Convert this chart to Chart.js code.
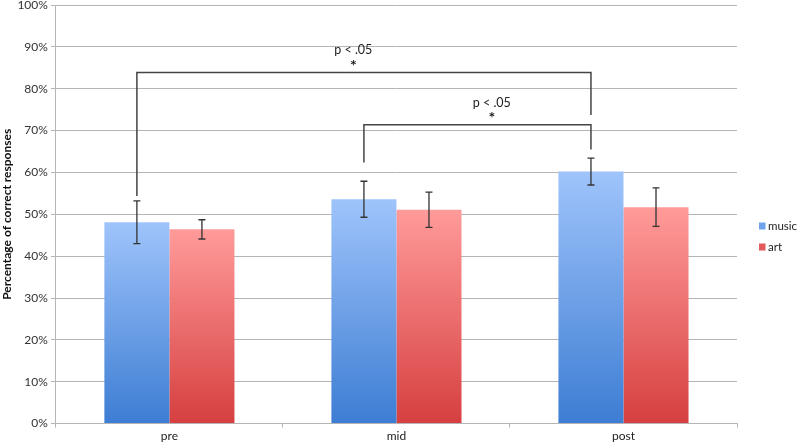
<!DOCTYPE html>
<html>
<head>
<meta charset="utf-8">
<script src="https://cdn.jsdelivr.net/npm/chart.js@4.4.1/dist/chart.umd.min.js"></script>
<style>
  html, body { margin: 0; padding: 0; background: #fff; }
  #wrap { width: 800px; height: 446px; position: relative; }
</style>
</head>
<body>
<div id="wrap"><canvas id="chart"></canvas></div>
<script>
/* Data */
const categories = ["pre", "mid", "post"];
const musicValues = [48.1, 53.6, 60.2];
const musicErrors = [5.1, 4.3, 3.2];
const artValues = [46.4, 51.1, 51.7];
const artErrors = [2.3, 4.2, 4.6];
const yTicks = [0, 10, 20, 30, 40, 50, 60, 70, 80, 90, 100];

/* significance brackets: from / to category, top of bracket, leg ends, label position */
const bracketFrom = [0, 1];
const bracketTo = [2, 2];
const bracketTop = [83.9, 71.4];
const bracketLegLeft = [54.4, 62.4];
const bracketLegRight = [73.7, 65.5];
const bracketLabelAt = [0.81, 1.42];
const bracketLabels = ["p < .05", "p < .05"];

const FONT = "Lato, 'Open Sans', sans-serif";
const legendColors = ["#6fa3ee", "#e25a5a"];

function barGradient(top, bottom){
    return function(ctx){
        const chart = ctx.chart;
        const area = chart.chartArea;
        const y = chart.scales.y;
        if(!area || !y || ctx.raw == null){ return bottom; }
        const g = chart.ctx.createLinearGradient(0, y.getPixelForValue(0), 0, y.getPixelForValue(ctx.raw));
        g.addColorStop(0, bottom);
        g.addColorStop(1, top);
        return g;
    }
}

/* error bars + brackets + legend */
const annotations = {
    id: "annotations",
    afterDatasetsDraw(chart){
        const ctx = chart.ctx;
        const y = chart.scales.y;
        const x = chart.scales.x;
        const errs = [musicErrors, artErrors];
        const vals = [musicValues, artValues];

        ctx.save();
        ctx.strokeStyle = "#333";
        ctx.lineWidth = 1.3;
        errs.forEach(function(err, d){
            chart.getDatasetMeta(d).data.forEach(function(bar, i){
                const hi = y.getPixelForValue(vals[d][i] + err[i]);
                const lo = y.getPixelForValue(vals[d][i] - err[i]);
                ctx.beginPath();
                ctx.moveTo(bar.x, hi); ctx.lineTo(bar.x, lo);
                ctx.moveTo(bar.x - 3.5, hi); ctx.lineTo(bar.x + 3.5, hi);
                ctx.moveTo(bar.x - 3.5, lo); ctx.lineTo(bar.x + 3.5, lo);
                ctx.stroke();
            })
        })

        const music = chart.getDatasetMeta(0).data;
        ctx.strokeStyle = "#444";
        ctx.lineWidth = 1.5;
        ctx.fillStyle = "#222";
        ctx.textAlign = "center";
        ctx.textBaseline = "middle";
        for(let b=0; b<bracketFrom.length; b++){
            const x1 = music[bracketFrom[b]].x;
            const x2 = music[bracketTo[b]].x;
            const top = y.getPixelForValue(bracketTop[b]);
            ctx.beginPath();
            ctx.moveTo(x1, y.getPixelForValue(bracketLegLeft[b]));
            ctx.lineTo(x1, top);
            ctx.lineTo(x2, top);
            ctx.lineTo(x2, y.getPixelForValue(bracketLegRight[b]));
            ctx.stroke();

            const tx = x.getPixelForValue(bracketLabelAt[b]);
            ctx.font = "12.5px " + FONT;
            ctx.fillText(bracketLabels[b], tx, top - 22);
            ctx.font = "bold 16px " + FONT;
            ctx.fillText("*", tx, top - 7);
        }

        /* legend, to the right of the plot */
        ctx.textAlign = "left";
        ctx.font = "11.5px " + FONT;
        chart.data.datasets.forEach(function(ds, i){
            const ly = 226 + i * 21;
            const lx = chart.chartArea.right + 22;
            ctx.fillStyle = legendColors[i];
            ctx.fillRect(lx, ly - 3.5, 6.5, 7);
            ctx.fillStyle = "#222";
            ctx.fillText(ds.label, lx + 9, ly);
        })
        ctx.restore();
    }
}

new Chart(document.getElementById("chart"), {
    type: "bar",
    data: {
        labels: categories,
        datasets: [
            {label: "music", data: musicValues, backgroundColor: barGradient("#9fc4fb", "#3d7dd3")},
            {label: "art", data: artValues, backgroundColor: barGradient("#ff9b9a", "#d63f3f")}
        ]
    },
    options: {
        responsive: true,
        maintainAspectRatio: false,
        animation: false,
        datasets: {
            bar: {categoryPercentage: 0.573, barPercentage: 1.0}
        },
        layout: {padding: {top: 0, right: 63, left: 0, bottom: 2}},
        plugins: {
            legend: {display: false},
            tooltip: {enabled: false}
        },
        scales: {
            x: {
                grid: {display: true, drawOnChartArea: false, drawTicks: true, tickLength: 4, color: "#b5b5b5"},
                border: {color: "#b5b5b5"},
                ticks: {color: "#222", font: {family: FONT, size: 12}, padding: 1}
            },
            y: {
                min: 0,
                max: 100,
                afterBuildTicks: function(axis){
                    axis.ticks = yTicks.map(function(v){ return {value: v}; });
                },
                afterFit: function(axis){
                    axis.paddingTop = 5;
                },
                grid: {color: "#b5b5b5", tickLength: 5},
                border: {color: "#b5b5b5"},
                ticks: {
                    color: "#333",
                    font: {family: FONT, size: 12},
                    padding: 3,
                    callback: function(value){ return value + "%"; }
                },
                title: {
                    display: true,
                    text: "Percentage of correct responses",
                    color: "#111",
                    font: {family: FONT, size: 12, weight: "bold"},
                    padding: {top: 0, bottom: 0}
                }
            }
        }
    },
    plugins: [annotations]
});
</script>
</body>
</html>
